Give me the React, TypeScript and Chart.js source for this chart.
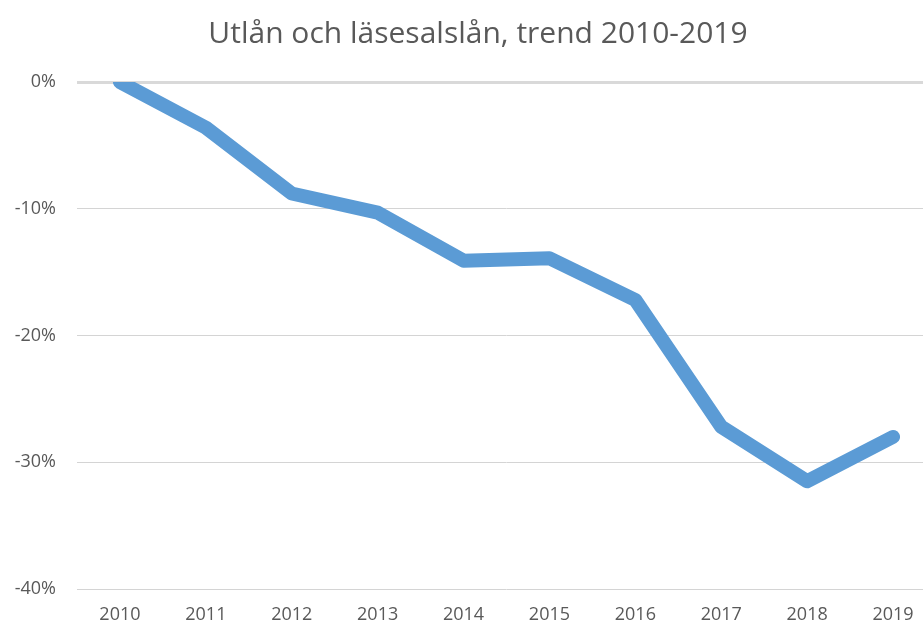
import React, { useEffect, useRef } from "react";
import { Chart, registerables } from "chart.js";

Chart.register(...registerables);

const title = "Utlån och läsesalslån, trend 2010-2019";
const years = ["2010", "2011", "2012", "2013", "2014", "2015", "2016", "2017", "2018", "2019"];
const trend = [0, -0.036, -0.088, -0.103, -0.141, -0.139, -0.172, -0.272, -0.315, -0.28];
const yMin = -0.4;
const yMax = 0;
const yStep = 0.1;

const TEXT = "#595959";
const FONT = "'Open Sans', 'Noto Sans', sans-serif";

export default function App() {
  const ref = useRef<HTMLCanvasElement | null>(null);

  useEffect(() => {
    if (!ref.current) return;
    const chart = new Chart(ref.current, {
      type: "line",
      data: {
        labels: years,
        datasets: [
          {
            data: trend,
            borderColor: "#5b9bd5",
            borderWidth: 14,
            borderCapStyle: "round",
            borderJoinStyle: "round",
            pointRadius: 0,
            pointHoverRadius: 0,
            tension: 0,
            fill: false,
            yAxisID: "y",
          },
        ],
      },
      options: {
        animation: false,
        responsive: false,
        maintainAspectRatio: false,
        layout: { padding: 0 },
        plugins: {
          legend: { display: false },
          tooltip: { enabled: false },
          title: {
            display: true,
            text: title,
            color: TEXT,
            font: { family: FONT, size: 30, weight: "normal" },
            padding: { top: 16, bottom: 30 },
          },
        },
        scales: {
          x: {
            type: "category",
            offset: true,
            grid: { display: false, drawTicks: false },
            border: { display: false },
            ticks: {
              color: TEXT,
              font: { family: FONT, size: 18 },
              padding: 15,
              maxRotation: 0,
            },
            afterFit: (axis: any) => {
              axis.height = 36;
            },
          },
          y: {
            min: yMin,
            max: yMax,
            grid: {
              color: (ctx: any) => (ctx.tick && ctx.tick.value === 0 ? "#d9d9d9" : "#d4d4d4"),
              lineWidth: (ctx: any) => (ctx.tick && ctx.tick.value === 0 ? 3 : 1),
              drawTicks: false,
            },
            border: { display: false },
            ticks: {
              stepSize: yStep,
              color: TEXT,
              font: { family: FONT, size: 18 },
              padding: 21,
              callback: (v: any) => Math.round(Number(v) * 100) + "%",
            },
            afterFit: (axis: any) => {
              axis.width = 77;
            },
          },
          yRight: {
            position: "right",
            min: yMin,
            max: yMax,
            grid: { display: false, drawTicks: false },
            border: { display: false },
            ticks: { display: false },
            afterFit: (axis: any) => {
              axis.width = 20;
            },
          },
        },
      },
    });
    return () => chart.destroy();
  }, []);

  return (
    <div
      style={{
        position: "fixed",
        left: 0,
        top: 0,
        width: 923,
        height: 625,
        overflow: "hidden",
        background: "#fff",
      }}
    >
      <canvas ref={ref} width={956} height={625} style={{ display: "block" }} />
    </div>
  );
}
